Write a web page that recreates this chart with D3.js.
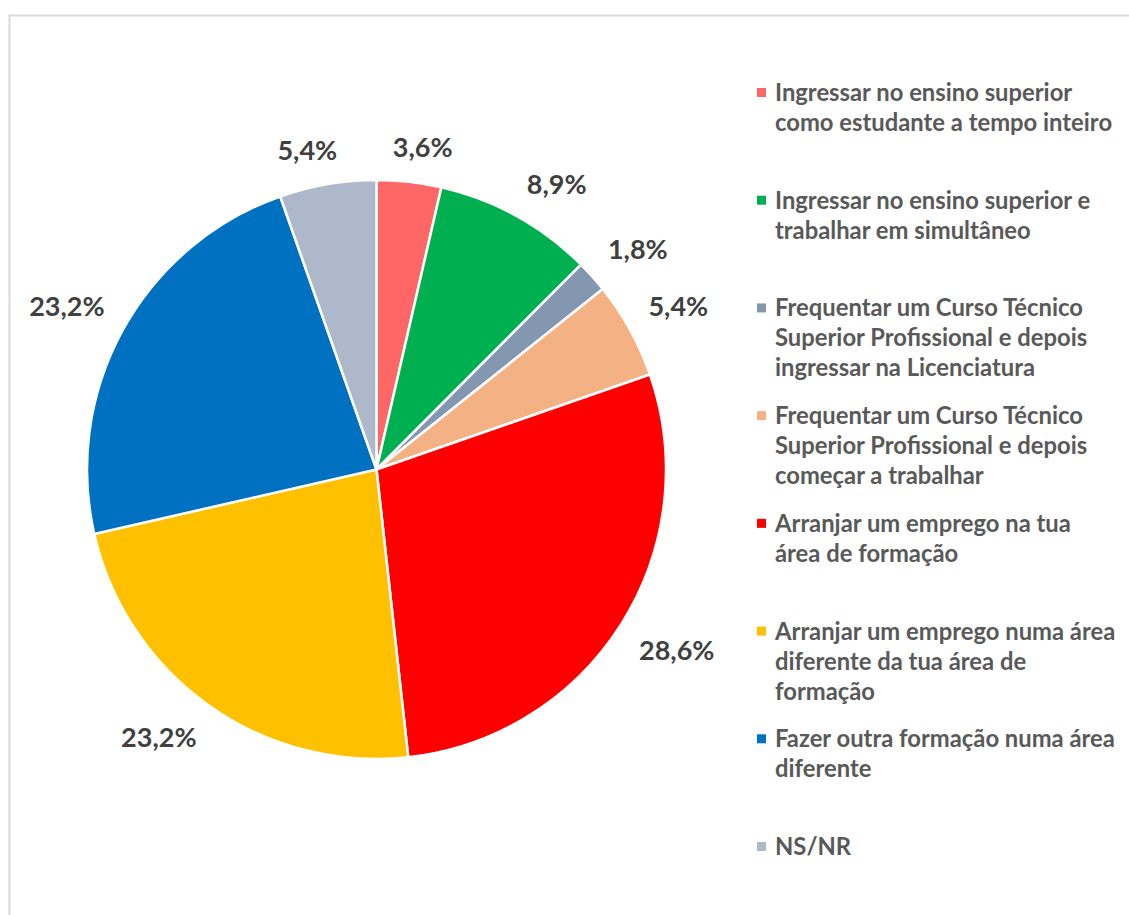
<!DOCTYPE html>
<html><head><meta charset="utf-8">
<script src="https://cdn.jsdelivr.net/npm/d3@7"></script>
<style>html,body{margin:0;padding:0;background:#fff;}svg{display:block;}</style>
</head><body>
<svg id="chart" width="1129" height="915"></svg>
<script>
const categories = [
  "Ingressar no ensino superior como estudante a tempo inteiro",
  "Ingressar no ensino superior e trabalhar em simultâneo",
  "Frequentar um Curso Técnico Superior Profissional e depois ingressar na Licenciatura",
  "Frequentar um Curso Técnico Superior Profissional e depois começar a trabalhar",
  "Arranjar um emprego na tua área de formação",
  "Arranjar um emprego numa área diferente da tua área de formação",
  "Fazer outra formação numa área diferente",
  "NS/NR"
];
const legendLines = [
  ["Ingressar no ensino superior", "como estudante a tempo inteiro"],
  ["Ingressar no ensino superior e", "trabalhar em simultâneo"],
  ["Frequentar um Curso Técnico", "Superior Profissional e depois", "ingressar na Licenciatura"],
  ["Frequentar um Curso Técnico", "Superior Profissional e depois", "começar a trabalhar"],
  ["Arranjar um emprego na tua", "área de formação"],
  ["Arranjar um emprego numa área", "diferente da tua área de", "formação"],
  ["Fazer outra formação numa área", "diferente"],
  ["NS/NR"]
];
const values = [3.6, 8.9, 1.8, 5.4, 28.6, 23.2, 23.2, 5.4];
const valueLabels = ["3,6%", "8,9%", "1,8%", "5,4%", "28,6%", "23,2%", "23,2%", "5,4%"];
const colors = ["#FF6666", "#00B050", "#8497B0", "#F4B183", "#FF0000", "#FFC000", "#0070C0", "#ADB9CA"];

const svg = d3.select("#chart");
const FONT = "Lato, 'Open Sans', sans-serif";

// chart frame
svg.append("rect").attr("x", 9.5).attr("y", 15.5).attr("width", 1300).attr("height", 1000)
  .attr("fill", "#fff").attr("stroke", "#D9D9D9").attr("stroke-width", 2);

const cx = 376.5, cy = 469.5, r = 289.5;
const g = svg.append("g").attr("transform", `translate(${cx},${cy})`);
const data = categories.map((c, i) => ({cat: c, value: values[i], label: valueLabels[i], color: colors[i]}));
const pie = d3.pie().sort(null).value(d => d.value);
const arcs = pie(data);
const arc = d3.arc().innerRadius(0).outerRadius(r);

g.selectAll("path").data(arcs).join("path")
  .attr("d", arc).attr("fill", d => d.data.color)
  .attr("stroke", "#fff").attr("stroke-width", 2.5).attr("stroke-linejoin", "round");

// labels at outside end: box corner anchored to a point just outside the arc
const lab = g.selectAll("text.lbl").data(arcs).join("text").attr("class", "lbl")
  .attr("font-family", FONT).attr("font-weight", 700).attr("font-size", 27)
  .attr("fill", "#404040").attr("text-anchor", "middle").attr("dominant-baseline", "central")
  .text(d => d.data.label);
lab.each(function(d) {
  const bb = this.getBBox();
  const a = (d.startAngle + d.endAngle) / 2;
  const s = Math.sin(a), c = Math.cos(a);
  const R = r + 21;
  const px = R * s, py = -R * c;
  const fx = Math.sign(s) * Math.min(1, Math.abs(s) / 0.3);
  const fy = -Math.sign(c) * Math.min(1, Math.abs(c) / 0.3);
  d3.select(this).attr("x", px + fx * bb.width / 2).attr("y", py + fy * 14);
});

// legend
const legend = svg.append("g");
const itemY = d3.scaleLinear().domain([0, categories.length - 1]).range([101, 855]);
const items = legend.selectAll("g").data(data).join("g")
  .attr("transform", (d, i) => `translate(0,${itemY(i)})`);
items.append("rect").attr("x", 757).attr("y", -13).attr("width", 9).attr("height", 9)
  .attr("fill", d => d.color);
items.append("text").attr("x", 775).attr("y", 0)
  .attr("font-family", FONT).attr("font-weight", 700).attr("font-size", 23.8).attr("fill", "#595959")
  .selectAll("tspan").data((d, i) => legendLines[i]).join("tspan")
  .attr("x", 775).attr("dy", (t, j) => j === 0 ? 0 : 30).text(t => t);
</script>
</body></html>
